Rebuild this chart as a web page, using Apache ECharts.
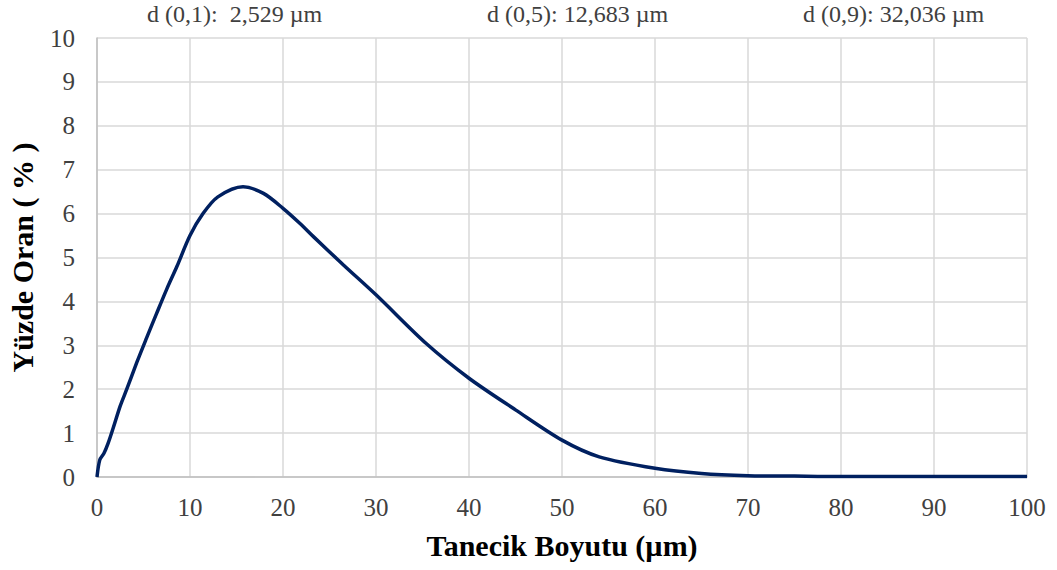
<!DOCTYPE html>
<html>
<head>
<meta charset="utf-8">
<script src="https://cdn.jsdelivr.net/npm/echarts@6/dist/echarts.min.js"></script>
<style>
  html, body { margin: 0; padding: 0; background: #fff; }
  #chart { width: 1057px; height: 570px; }
</style>
</head>
<body>
<div id="chart"></div>
<script>
// particle size (µm) and percentage
const sizes = [0, 0.3, 0.75, 1.2, 1.75, 2.5, 3.2, 4.3, 5.3, 6.4, 7.5, 8.6, 10, 11.4, 13, 15.7, 17.9, 20, 21.8, 23.3, 26.5, 30, 35.4, 40, 45, 50, 54, 60, 65, 70, 75, 80, 90, 100];
const percents = [0, 0.39, 0.54, 0.77, 1.12, 1.62, 2.0, 2.62, 3.15, 3.72, 4.28, 4.8, 5.5, 6.0, 6.38, 6.61, 6.46, 6.12, 5.78, 5.47, 4.83, 4.15, 3.04, 2.25, 1.53, 0.84, 0.46, 0.2, 0.08, 0.03, 0.02, 0.01, 0.01, 0.01];
const dLabels = ['d (0,1):  2,529 µm', 'd (0,5): 12,683 µm', 'd (0,9): 32,036 µm'];

const font = '"Liberation Serif", "Times New Roman", serif';
const chart = echarts.init(document.getElementById('chart'), null, { renderer: 'svg' });

chart.setOption({
  animation: false,
  grid: { left: 97, right: 30, top: 38, bottom: 93, containLabel: false, outerBoundsMode: 'none' },
  graphic: [
    { type: 'text', left: 147, top: 2, style: { text: dLabels[0], font: '24px ' + font, fill: '#404040' } },
    { type: 'text', left: 487, top: 2, style: { text: dLabels[1], font: '24px ' + font, fill: '#404040' } },
    { type: 'text', left: 803, top: 2, style: { text: dLabels[2], font: '24px ' + font, fill: '#404040' } }
  ],
  xAxis: {
    type: 'value',
    min: 0, max: 100, interval: 10,
    name: 'Tanecik Boyutu (µm)',
    nameLocation: 'middle',
    nameGap: 53,
    nameTextStyle: { fontFamily: font, fontWeight: 'bold', fontSize: 30, color: '#000' },
    axisLine: { lineStyle: { color: '#bfbfbf', width: 1.5 } },
    axisTick: { show: false },
    axisLabel: { fontFamily: font, fontSize: 25, color: '#404040', margin: 18 },
    splitLine: { show: true, lineStyle: { color: '#d9d9d9', width: 1.5 } }
  },
  yAxis: {
    type: 'value',
    min: 0, max: 10, interval: 1,
    name: 'Yüzde Oran ( % )',
    nameLocation: 'middle',
    nameGap: 60,
    nameTextStyle: { fontFamily: font, fontWeight: 'bold', fontSize: 30, color: '#000' },
    axisLine: { show: true, lineStyle: { color: '#bfbfbf', width: 1.5 } },
    axisTick: { show: false },
    axisLabel: { fontFamily: font, fontSize: 25, color: '#404040', margin: 22 },
    splitLine: { show: true, lineStyle: { color: '#d9d9d9', width: 1.5 } }
  },
  series: [{
    type: 'line',
    data: sizes.map((s, i) => [s, percents[i]]),
    smooth: 0.3,
    showSymbol: false,
    lineStyle: { color: '#002060', width: 3.5 }
  }]
});
</script>
</body>
</html>
